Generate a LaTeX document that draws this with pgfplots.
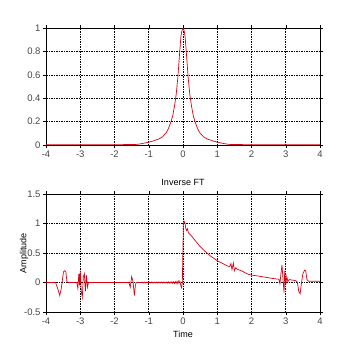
\documentclass[border=0pt]{standalone}
\usepackage{fontspec}
\setmainfont{Liberation Sans}
\usepackage{pgfplots}
\pgfplotsset{compat=1.18}
\definecolor{lc}{RGB}{220,0,20}
\definecolor{tl}{RGB}{70,70,70}
\pgfplotsset{
  myax/.style={
    scale only axis, width=274pt,
    xmin=-4, xmax=4, xtick={-4,-3,...,4},
    grid=major, major grid style={black, dashed, line width=0.6pt, dash pattern=on 1.5pt off 1pt},
    axis line style={black, line width=0.6pt},
    tick align=outside, major tick length=3pt,
    tick style={black, line width=0.5pt},
    tick label style={font=\fontsize{9.5}{10}\selectfont, text=tl},
    label style={font=\fontsize{9}{10}\selectfont},
    title style={font=\fontsize{9}{10}\selectfont},
    /pgf/number format/assume math mode=true,
    xticklabel style={yshift=1pt},
    yticklabel style={xshift=1pt},
  },
  myline/.style={lc, line width=0.7pt, no markers},
}
\begin{document}
\begin{tikzpicture}[x=1pt,y=1pt]
\path (0,0) rectangle (353,-353);
\begin{axis}[myax, at={(46pt,-145pt)}, anchor=south west, height=117pt,
  ymin=0, ymax=1, ytick={0,0.2,...,1},
  yticklabels={0,0.2,0.4,0.6,0.8,1}]
\addplot[myline] coordinates {
(-4,0.003) (-3,0.003) (-2,0.003) (-1.4,0.004) (-1.3,0.007) (-1.2,0.012) (-1.1,0.018)
(-1.0,0.025) (-0.9,0.032) (-0.8,0.042) (-0.7,0.052) (-0.6,0.07) (-0.5,0.1)
(-0.45,0.125) (-0.4,0.16) (-0.35,0.2) (-0.3,0.25) (-0.25,0.33) (-0.2,0.43)
(-0.15,0.58) (-0.1,0.78) (-0.06,0.93) (-0.03,0.98) (0,1.0)
(0.03,0.98) (0.06,0.93) (0.1,0.78) (0.15,0.58) (0.2,0.43) (0.25,0.33) (0.3,0.25)
(0.35,0.2) (0.4,0.16) (0.45,0.125) (0.5,0.1) (0.6,0.07) (0.7,0.052) (0.8,0.042)
(0.9,0.032) (1.0,0.025) (1.1,0.018) (1.2,0.012) (1.3,0.007) (1.4,0.004)
(2,0.003) (3,0.003) (4,0.003)
};
\end{axis}
\begin{axis}[myax, at={(46pt,-312pt)}, anchor=south west, height=118pt,
  ymin=-0.5, ymax=1.5, ytick={-0.5,0,0.5,1,1.5},
  yticklabels={-0.5,0,0.5,1,1.5},
  title={Inverse FT}, title style={yshift=-1pt},
  xlabel={Time}, ylabel={Amplitude},
  xlabel style={yshift=0pt}, ylabel style={yshift=-11pt}]
\addplot[myline] coordinates {
(-4,0) (-3.72,0) (-3.66,-0.1) (-3.6,-0.22) (-3.56,-0.12) (-3.53,0) (-3.49,0.18)
(-3.45,0.2) (-3.42,0.18) (-3.39,0.02) (-3.37,0)
(-3.1,0) (-3.07,-0.1) (-3.04,0.15) (-3.02,-0.05) (-3.0,0.2) (-2.97,-0.15)
(-2.94,-0.25) (-2.91,0.1) (-2.88,0.15) (-2.85,-0.15) (-2.82,0.12) (-2.79,-0.08) (-2.76,0)
(-1.58,0) (-1.54,-0.08) (-1.5,0.1) (-1.46,0.02) (-1.42,-0.22) (-1.39,-0.05) (-1.37,0)
(-1.2,0) (-1.175,0.008) (-1.15,-0.008) (-1.125,0.008) (-1.1,-0.008) (-1.075,0.008)
(-1.05,-0.008) (-1.025,0.008) (-1.0,-0.008) (-0.975,0.008) (-0.95,-0.008) (-0.925,0.008)
(-0.9,-0.008) (-0.875,0.008) (-0.85,-0.008) (-0.825,0.008) (-0.8,-0.008) (-0.775,0.008)
(-0.75,-0.008) (-0.725,0.008) (-0.7,-0.008) (-0.675,0.008) (-0.65,-0.008) (-0.625,0.008)
(-0.6,-0.008) (-0.575,0.008) (-0.55,-0.008) (-0.525,0.008) (-0.5,-0.008) (-0.475,0.008)
(-0.45,-0.01) (-0.425,0.01) (-0.4,-0.01) (-0.375,0.01) (-0.35,-0.01) (-0.325,0.012)
(-0.3,-0.012) (-0.275,0.012) (-0.25,-0.015) (-0.225,0.015) (-0.2,-0.015) (-0.175,0.02)
(-0.15,-0.02) (-0.12,0.03) (-0.09,0.02) (-0.06,-0.06) (-0.04,-0.09) (-0.02,0.0)
(-0.01,0.3) (0,0.6) (0.01,0.98) (0.03,1.04) (0.06,1.0) (0.08,0.92) (0.1,0.88)
(0.13,0.91) (0.16,0.84) (0.2,0.82) (0.25,0.79) (0.3,0.75) (0.4,0.68) (0.5,0.61)
(0.6,0.55) (0.7,0.5) (0.8,0.45) (0.9,0.41) (1.0,0.37) (1.1,0.34) (1.2,0.31)
(1.3,0.28) (1.36,0.27) (1.4,0.32) (1.43,0.22) (1.47,0.33) (1.5,0.2) (1.54,0.25)
(1.6,0.22) (1.7,0.2) (1.8,0.17) (1.9,0.14) (2.0,0.125) (2.2,0.11) (2.4,0.09)
(2.6,0.07) (2.8,0.055) (2.83,-0.02) (2.86,0.15) (2.89,0.3) (2.92,0.05)
(2.95,-0.17) (2.97,0.2) (3.0,-0.05) (3.03,0.1) (3.06,0.02) (3.1,0.05) (3.2,0.04)
(3.3,0.03) (3.34,0.0) (3.38,-0.15) (3.42,-0.19) (3.45,-0.05) (3.5,0.15) (3.55,0.21)
(3.58,0.2) (3.62,0.05) (3.67,0.02) (4,0.02)
};
\end{axis}
\end{tikzpicture}
\end{document}
